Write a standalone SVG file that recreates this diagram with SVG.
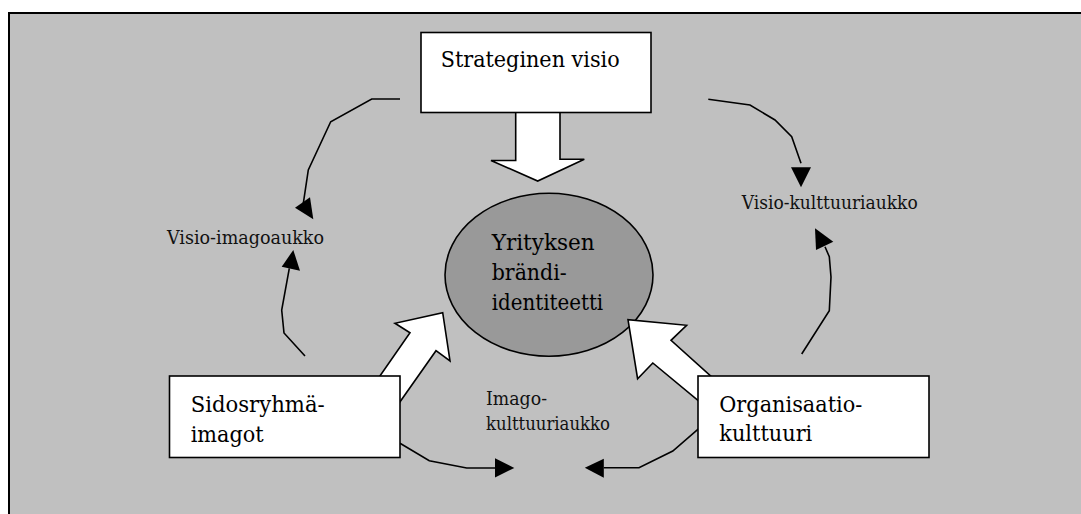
<svg xmlns="http://www.w3.org/2000/svg" width="1081" height="514" viewBox="0 0 1081 514">
  <defs>
    <style>
      .frame { fill: #c0c0c0; stroke: #000; stroke-width: 2; }
      .box { fill: #fff; stroke: #000; stroke-width: 1.6; }
      .block { fill: #fff; stroke: #000; stroke-width: 1.6; stroke-linejoin: miter; }
      .line { fill: none; stroke: #000; stroke-width: 1.6; }
      .head { fill: #000; stroke: none; }
      text { font-family: 'DejaVu Serif', 'Liberation Serif', serif; }
      .big { font-size: 23px; fill: #000; }
      .small { font-size: 19px; fill: #111; }
    </style>
  </defs>
  <rect x="0" y="0" width="1081" height="514" fill="#fff"/>
  <rect class="frame" x="9" y="13" width="1100" height="520"/>

  <g id="connectors">
    <polyline class="line" points="400,99 371.7,99 330.7,121.7 308.3,170 303.3,203.3"/>
    <polygon class="head" points="295,207.7 313.3,219.3 310,197.3"/>
    <polyline class="line" points="305,356 284,333 281.7,310 289.3,268.3"/>
    <polygon class="head" points="281.7,266.7 293.3,250 300,270.7"/>
    <polyline class="line" points="708.3,99.3 750,105 775,120 791.7,136.7 801,163.3"/>
    <polygon class="head" points="791,167.3 801,187.3 811,167.3"/>
    <polyline class="line" points="801.7,354 829.3,310.7 831,277 829.3,256.7 825,246.7"/>
    <polygon class="head" points="815,228.3 833.3,241.7 816,250"/>
    <polyline class="line" points="400,443.3 429.3,460.7 466.7,468 495,468"/>
    <polygon class="head" points="495,458.3 514.3,468 495,477.5"/>
    <polyline class="line" points="698.7,428.7 672.8,451 639,467.7 603.8,467.7"/>
    <polygon class="head" points="603.8,458.7 584.8,467.7 603.8,477.7"/>
  </g>

  <g id="brand-identity">
    <ellipse cx="549" cy="274.8" rx="104" ry="81.5" fill="#999" stroke="#000" stroke-width="1.6"/>
    <text class="big" x="491.7" y="250" textLength="103" lengthAdjust="spacingAndGlyphs">Yrityksen</text>
    <text class="big" x="491.7" y="280" textLength="75" lengthAdjust="spacingAndGlyphs">brändi-</text>
    <text class="big" x="491.7" y="310" textLength="111.5" lengthAdjust="spacingAndGlyphs">identiteetti</text>
  </g>

  <g id="block-arrows">
    <polygon class="block" points="515.7,110 560,110 560,159.3 584.3,159.3 537.7,181 491,160.5 515.7,160.5"/>
    <polygon class="block" points="366,396 410,332.7 395,323.3 442.7,312.7 450,361 436,350.7 390,416"/>
    <polygon class="block" points="730,393.3 671,340.3 686.6,325.3 628,319.7 637.6,378.7 652.8,363 720,418.6"/>
  </g>

  <g id="strategic-vision">
    <rect class="box" x="421" y="32.5" width="230" height="80"/>
    <text class="big" x="440.7" y="66.7" textLength="179" lengthAdjust="spacingAndGlyphs">Strateginen visio</text>
  </g>

  <g id="stakeholder-images">
    <rect class="box" x="169.5" y="376" width="230.5" height="81.5"/>
    <text class="big" x="190.7" y="411.7" textLength="134" lengthAdjust="spacingAndGlyphs">Sidosryhmä-</text>
    <text class="big" x="190.7" y="441.7" textLength="73" lengthAdjust="spacingAndGlyphs">imagot</text>
  </g>

  <g id="organisation-culture">
    <rect class="box" x="698" y="376" width="231" height="81.5"/>
    <text class="big" x="719.3" y="412" textLength="143" lengthAdjust="spacingAndGlyphs">Organisaatio-</text>
    <text class="big" x="719.3" y="441.3" textLength="93" lengthAdjust="spacingAndGlyphs">kulttuuri</text>
  </g>

  <g id="labels">
    <text class="small" x="167" y="244" textLength="157" lengthAdjust="spacingAndGlyphs">Visio-imagoaukko</text>
    <text class="small" x="741.7" y="209.3" textLength="176" lengthAdjust="spacingAndGlyphs">Visio-kulttuuriaukko</text>
    <text class="small" x="486" y="405" textLength="61" lengthAdjust="spacingAndGlyphs">Imago-</text>
    <text class="small" x="486" y="430" textLength="124" lengthAdjust="spacingAndGlyphs">kulttuuriaukko</text>
  </g>
</svg>
